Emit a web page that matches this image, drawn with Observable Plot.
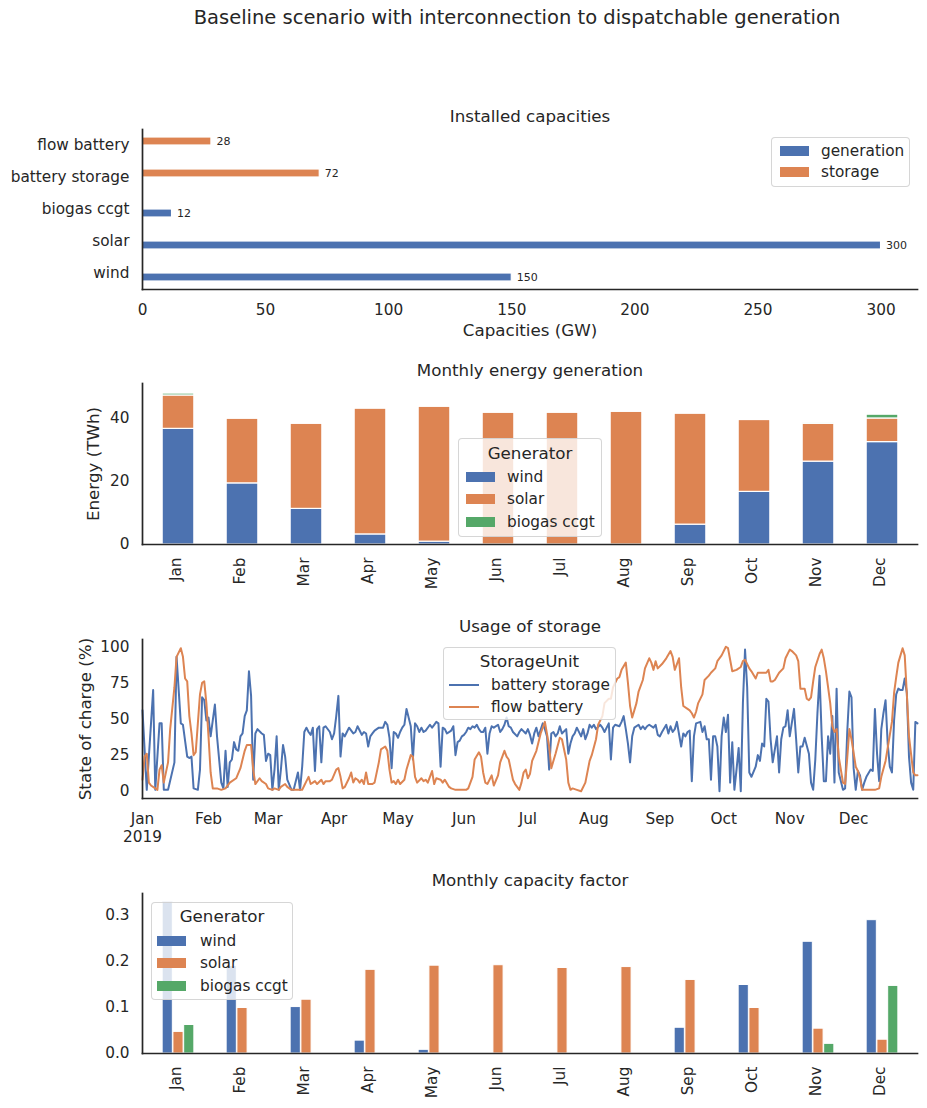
<!DOCTYPE html>
<html>
<head>
<meta charset="utf-8">
<script src="https://cdn.jsdelivr.net/npm/d3@7"></script>
<script src="https://cdn.jsdelivr.net/npm/@observablehq/plot@0.6"></script>
<style>
  html, body { margin: 0; padding: 0; background: #fff; }
  body { font-family: "DejaVu Sans", sans-serif; color: #262626; }
  #fig { position: relative; width: 927px; height: 1108px; overflow: hidden; }
  #fig svg { position: absolute; left: 0; }
  .suptitle { position: absolute; font-size: 19.5px; text-align: center; white-space: nowrap; }
  .legend-box { position: absolute; box-sizing: border-box; background: rgba(255,255,255,0.8);
                border: 1px solid rgba(204,204,204,0.8); border-radius: 4px; }
  .legend-title { position: absolute; text-align: center; font-size: 16.7px; white-space: nowrap; }
  .legend-label { position: absolute; font-size: 15.3px; white-space: nowrap; }
  .legend-handle { position: absolute; }
</style>
</head>
<body>
<div id="fig"></div>
<script>
// ---------- data ----------
const figureTitle = "Baseline scenario with interconnection to dispatchable generation";

// installed capacities (GW)
const capacityTechs = ["wind", "solar", "biogas ccgt", "battery storage", "flow battery"];
const capacityKind  = ["generation", "generation", "generation", "storage", "storage"];
const capacityGW    = [150, 300, 12, 72, 28];
const capacityKinds = ["generation", "storage"];
const capacityTicks = [0, 50, 100, 150, 200, 250, 300];

// months and generators
const months = ["Jan","Feb","Mar","Apr","May","Jun","Jul","Aug","Sep","Oct","Nov","Dec"];
const generators = ["wind", "solar", "biogas ccgt"];

// monthly energy generation (TWh)
const energyWind   = [36.7, 19.4, 11.3, 3.2, 0.9, 0, 0, 0, 6.3, 16.7, 26.3, 32.5];
const energySolar  = [10.6, 20.5, 27.0, 39.9, 42.8, 41.8, 41.8, 42.1, 35.2, 22.8, 12.0, 7.5];
const energyBiogas = [0.6, 0, 0, 0, 0, 0, 0, 0, 0, 0, 0.2, 1.2];
const energyTicks  = [0, 20, 40];

// monthly capacity factor
const cfWind   = [0.329, 0.19, 0.101, 0.028, 0.008, 0, 0, 0, 0.056, 0.149, 0.243, 0.29];
const cfSolar  = [0.047, 0.099, 0.117, 0.182, 0.191, 0.192, 0.186, 0.188, 0.160, 0.099, 0.054, 0.030];
const cfBiogas = [0.062, 0, 0, 0, 0, 0, 0, 0, 0, 0, 0.021, 0.147];
const cfTicks  = [0, 0.1, 0.2, 0.3];

// state of charge (%) by day of year 2019: [day offset from 1 Jan, value]
const storageUnits = ["battery storage", "flow battery"];
const socTicks = [0, 25, 50, 75, 100];
const socBattery = [[0,56],[2,1],[5,70],[6,1],[8,47],[9,47],[10,1],[12,1],[15,20],[16,93],[18,47],[19,46],[21,24],[22,23],[23,24],[24,2],[26,1],[27,15],[28,65],[29,63],[30,49],[31,51],[32,38],[34,60],[35,38],[37,6],[38,2],[39,28],[40,3],[41,20],[42,22],[43,34],[44,29],[45,28],[46,38],[47,40],[48,52],[49,56],[50,83],[51,66],[52,8],[53,40],[54,43],[56,40],[57,39],[58,21],[59,26],[60,25],[61,1],[62,15],[63,38],[64,1],[65,15],[66,32],[67,24],[68,8],[70,1],[71,1],[73,13],[74,1],[75,17],[76,41],[77,44],[78,41],[79,39],[80,44],[81,14],[82,43],[83,45],[84,20],[85,44],[86,45],[88,41],[89,36],[90,40],[91,52],[92,66],[93,24],[94,40],[95,38],[96,41],[97,44],[99,40],[100,41],[101,45],[102,42],[103,39],[104,41],[105,40],[106,31],[107,38],[108,40],[109,42],[110,43],[111,44],[113,44],[114,48],[115,46],[116,37],[117,16],[118,41],[119,40],[120,37],[121,41],[122,44],[123,46],[124,57],[126,45],[127,22],[128,47],[129,45],[130,41],[131,44],[132,41],[133,42],[135,46],[136,44],[137,46],[138,48],[139,47],[140,17],[141,44],[142,43],[143,40],[145,42],[146,45],[147,25],[148,34],[149,35],[150,38],[151,39],[152,41],[153,44],[154,43],[155,45],[156,44],[157,46],[158,43],[159,41],[160,41],[161,44],[162,26],[163,40],[164,45],[165,44],[167,46],[168,41],[169,43],[170,46],[171,51],[172,45],[173,44],[174,41],[176,38],[177,41],[178,43],[180,40],[181,43],[182,39],[183,33],[184,40],[185,44],[186,38],[188,47],[189,43],[190,38],[191,15],[192,40],[193,41],[194,38],[195,40],[196,45],[197,40],[199,43],[200,26],[201,33],[202,38],[203,40],[204,44],[206,38],[207,43],[208,36],[209,40],[210,46],[211,44],[212,46],[213,43],[215,46],[216,44],[217,41],[218,44],[219,47],[220,22],[221,44],[222,46],[224,45],[225,48],[226,52],[227,43],[228,33],[229,20],[230,38],[231,44],[233,46],[234,43],[235,45],[236,43],[237,45],[238,46],[240,44],[241,46],[242,39],[243,38],[244,41],[246,46],[247,40],[248,45],[249,41],[250,43],[251,48],[253,31],[254,40],[255,38],[256,41],[257,42],[258,7],[259,38],[260,47],[262,48],[263,41],[264,45],[265,36],[266,36],[267,8],[268,38],[269,38],[270,31],[271,0],[272,38],[273,51],[274,41],[275,53],[276,6],[277,34],[278,1],[279,15],[280,30],[281,0],[282,61],[283,98],[284,72],[285,13],[286,10],[288,17],[289,25],[290,21],[291,33],[292,31],[293,64],[294,62],[295,36],[296,20],[297,29],[298,38],[299,13],[300,36],[301,44],[302,45],[303,56],[304,38],[306,57],[307,36],[308,13],[309,31],[310,31],[311,37],[313,26],[314,6],[315,1],[316,22],[317,54],[318,80],[319,38],[320,7],[321,7],[322,38],[323,26],[324,52],[325,6],[326,71],[327,13],[329,1],[330,2],[331,41],[332,69],[333,65],[334,16],[335,1],[336,14],[337,11],[338,1],[339,6],[340,10],[342,15],[343,14],[344,57],[345,26],[346,7],[347,43],[348,54],[349,63],[350,33],[351,17],[352,13],[353,49],[354,67],[355,71],[356,70],[357,70],[358,78],[359,68],[360,24],[361,6],[362,1],[363,48],[364,47]];
const socFlow = [[0,8],[1,24],[2,26],[3,6],[4,4],[6,2],[7,1],[8,15],[9,18],[10,6],[12,20],[13,43],[15,72],[16,93],[18,99],[19,93],[20,78],[21,76],[22,52],[23,40],[24,25],[25,27],[26,47],[27,67],[28,75],[29,76],[30,61],[31,38],[32,13],[33,2],[35,2],[37,1],[39,2],[41,6],[44,9],[46,16],[48,28],[49,32],[51,32],[52,15],[53,5],[55,9],[56,7],[58,5],[59,2],[61,1],[62,2],[64,1],[65,3],[67,5],[68,3],[70,1],[73,1],[75,1],[76,4],[77,7],[78,10],[79,5],[80,6],[81,7],[82,5],[84,8],[85,5],[86,7],[88,7],[89,8],[91,15],[92,16],[93,10],[94,2],[95,3],[97,9],[98,13],[99,6],[100,9],[101,8],[102,6],[103,8],[104,5],[105,13],[106,5],[108,5],[109,6],[111,20],[112,29],[114,31],[115,28],[116,15],[117,6],[118,7],[119,5],[120,8],[121,5],[123,8],[124,15],[126,25],[127,24],[128,10],[129,6],[131,9],[132,7],[133,8],[134,6],[136,14],[137,5],[138,9],[140,8],[141,6],[142,8],[144,3],[145,2],[147,1],[149,1],[152,1],[153,2],[155,10],[156,22],[158,27],[159,24],[160,13],[161,6],[162,5],[164,11],[165,4],[167,11],[168,20],[170,28],[171,24],[172,22],[173,15],[174,8],[175,5],[177,1],[178,6],[179,13],[180,15],[181,9],[182,12],[183,21],[185,28],[187,40],[189,48],[191,31],[192,16],[194,26],[196,37],[197,36],[199,22],[200,6],[201,1],[202,2],[204,1],[206,0],[208,6],[210,21],[211,25],[213,36],[214,46],[216,52],[217,61],[219,64],[220,64],[221,72],[223,78],[224,79],[225,84],[227,89],[228,75],[229,59],[230,51],[232,61],[233,69],[235,77],[236,85],[238,92],[239,89],[240,84],[241,90],[242,85],[244,88],[246,92],[248,97],[249,93],[250,84],[252,92],[253,72],[254,59],[256,57],[257,56],[258,54],[259,51],[260,55],[261,61],[263,67],[264,77],[266,80],[267,82],[269,85],[270,90],[272,94],[274,100],[275,99],[276,91],[277,83],[279,84],[281,86],[282,90],[283,91],[285,85],[286,83],[288,78],[289,82],[291,82],[293,82],[294,84],[295,76],[296,76],[297,77],[299,82],[301,85],[302,92],[304,98],[305,97],[307,94],[308,90],[309,71],[311,71],[312,64],[313,63],[314,65],[315,76],[316,86],[318,95],[319,98],[320,92],[321,83],[322,72],[323,61],[324,45],[325,41],[326,43],[327,24],[329,6],[330,5],[331,23],[332,43],[333,36],[335,17],[336,14],[337,9],[338,1],[340,1],[342,1],[344,1],[346,2],[347,10],[349,21],[350,30],[352,48],[353,68],[354,79],[355,89],[357,99],[358,94],[359,67],[360,38],[362,13],[363,11],[364,11]];

// ---------- styling ----------
const FONT = "DejaVu Sans";
const INK = "#262626";
const BLUE = "#4C72B0", ORANGE = "#DD8452", GREEN = "#55A868";
const genColors = [BLUE, ORANGE, GREEN];
const kindColors = [BLUE, ORANGE];
const W = 927, ML = 142, MR = 10;
const TITLE_SIZE = 16.7, TICK_SIZE = "15.3px";
const baseStyle = {fontFamily: FONT, fontSize: TICK_SIZE, color: INK, background: "transparent", overflow: "visible"};

const fig = document.getElementById("fig");
function place(svg, top) { svg.style.top = top + "px"; fig.appendChild(svg); }

const spines = () => [
  Plot.frame({anchor: "left", stroke: INK, strokeWidth: 1.7}),
  Plot.frame({anchor: "bottom", stroke: INK, strokeWidth: 1.7})
];
const panelTitle = (t) => Plot.text([t], {text: d => d, frameAnchor: "top", dy: -13, lineAnchor: "middle", fontSize: TITLE_SIZE, fill: INK});
const yLabel = (t, dx) => Plot.text([t], {text: d => d, frameAnchor: "left", dx, rotate: -90, lineAnchor: "middle", textAnchor: "middle", fontSize: TITLE_SIZE, fill: INK});
const monthAxis = () => Plot.axisX({tickSize: 0, tickPadding: 13, tickRotate: -90, dx: -2, label: null});

// ---------- suptitle ----------
const sup = document.createElement("div");
sup.className = "suptitle";
sup.textContent = figureTitle;
Object.assign(sup.style, {left: (517 - 450) + "px", width: "900px", top: "6px", lineHeight: "24px"});
fig.appendChild(sup);

// ---------- panel 1: installed capacities ----------
const capRows = capacityTechs.map((t, i) => ({tech: t, kind: capacityKind[i], value: capacityGW[i]}));
const genCap = capRows.filter(d => d.kind === "generation");
const stoCap = capRows.filter(d => d.kind === "storage");
place(Plot.plot({
  width: W, height: 260, marginLeft: ML, marginRight: MR, marginTop: 39, marginBottom: 61,
  style: baseStyle,
  x: {domain: [0, 314.8]},
  y: {domain: capacityTechs.slice().reverse(), padding: 0},
  marks: [
    Plot.barX(genCap, {x: "value", y: "tech", fill: kindColors[0], stroke: "white", strokeWidth: 1.2, insetTop: 16, insetBottom: 8}),
    Plot.barX(stoCap, {x: "value", y: "tech", fill: kindColors[1], stroke: "white", strokeWidth: 1.2, insetTop: 8, insetBottom: 16}),
    Plot.text(genCap, {x: "value", y: "tech", text: d => String(d.value), dx: 5, dy: 4, textAnchor: "start", fontSize: 11, fill: INK}),
    Plot.text(stoCap, {x: "value", y: "tech", text: d => String(d.value), dx: 5, dy: -4, textAnchor: "start", fontSize: 11, fill: INK}),
    Plot.axisX({ticks: capacityTicks, tickSize: 0, tickPadding: 15, label: null}),
    Plot.axisY({tickSize: 0, tickPadding: 13, label: null}),
    ...spines(),
    panelTitle("Installed capacities"),
    Plot.text(["Capacities (GW)"], {text: d => d, frameAnchor: "bottom", dy: 41, lineAnchor: "middle", fontSize: TITLE_SIZE, fill: INK})
  ]
}), 90);

// ---------- panel 2: monthly energy generation ----------
const energySeries = [energyWind, energySolar, energyBiogas];
const energyRows = months.flatMap((m, i) => generators.map((g, k) => ({month: m, gen: g, v: energySeries[k][i]}))).filter(d => d.v > 0);
const step = (W - ML - MR) / months.length;
place(Plot.plot({
  width: W, height: 260, marginLeft: ML, marginRight: MR, marginTop: 43, marginBottom: 56,
  style: baseStyle,
  x: {domain: months, padding: 0},
  y: {domain: [0, 51.1]},
  color: {domain: generators, range: genColors},
  marks: [
    Plot.barY(energyRows, {x: "month", y: "v", fill: "gen", stroke: "white", strokeWidth: 1.2, insetLeft: step / 4, insetRight: step / 4}),
    monthAxis(),
    Plot.axisY({ticks: energyTicks, tickSize: 0, tickPadding: 13, label: null}),
    ...spines(),
    panelTitle("Monthly energy generation"),
    yLabel("Energy (TWh)", -49)
  ]
}), 340);

// ---------- panel 3: usage of storage ----------
const day0 = Date.UTC(2019, 0, 1);
const toRows = (pairs, unit) => pairs.map(([d, v]) => ({date: new Date(day0 + d * 864e5), soc: v, unit}));
const batteryRows = toRows(socBattery, storageUnits[0]);
const flowRows = toRows(socFlow, storageUnits[1]);
const monthStarts = d3.utcMonths(new Date(day0), new Date(Date.UTC(2020, 0, 1)));
place(Plot.plot({
  width: W, height: 253, marginLeft: ML, marginRight: MR, marginTop: 44, marginBottom: 50,
  style: baseStyle,
  x: {type: "utc", domain: [new Date(day0), new Date(Date.UTC(2019, 11, 31))]},
  y: {domain: [-5, 105]},
  marks: [
    Plot.lineY(batteryRows, {x: "date", y: "soc", stroke: BLUE, strokeWidth: 2}),
    Plot.lineY(flowRows, {x: "date", y: "soc", stroke: ORANGE, strokeWidth: 2}),
    Plot.axisX({ticks: monthStarts, tickSize: 0, tickPadding: 13, lineHeight: 1.17, label: null,
      tickFormat: d => d.getUTCMonth() === 0 ? d3.utcFormat("%b\n%Y")(d) : d3.utcFormat("%b")(d)}),
    Plot.axisY({ticks: socTicks, tickSize: 0, tickPadding: 13, label: null}),
    ...spines(),
    panelTitle("Usage of storage"),
    yLabel("State of charge (%)", -57)
  ]
}), 595);

// ---------- panel 4: monthly capacity factor ----------
const cfSeries = [cfWind, cfSolar, cfBiogas];
const groupW = step * 0.5, barW = groupW / 3, lead = (step - groupW) / 2;
place(Plot.plot({
  width: W, height: 258, marginLeft: ML, marginRight: MR, marginTop: 43, marginBottom: 55,
  style: baseStyle,
  x: {domain: months, padding: 0},
  y: {domain: [0, 0.348]},
  marks: [
    ...generators.map((g, k) => Plot.barY(
      months.map((m, i) => ({month: m, gen: g, v: cfSeries[k][i]})).filter(d => d.v > 0),
      {x: "month", y: "v", fill: genColors[k], stroke: "white", strokeWidth: 1,
       insetLeft: lead + k * barW, insetRight: step - lead - (k + 1) * barW})),
    monthAxis(),
    Plot.axisY({ticks: cfTicks, tickFormat: d3.format(".1f"), tickSize: 0, tickPadding: 13, label: null}),
    ...spines(),
    panelTitle("Monthly capacity factor")
  ]
}), 850);

// ---------- legends ----------
function legend({box: [x0, y0, x1, y1], title, titleY, handleX, textX, rows, kind}) {
  const b = document.createElement("div");
  b.className = "legend-box";
  Object.assign(b.style, {left: x0 + "px", top: y0 + "px", width: (x1 - x0) + "px", height: (y1 - y0) + "px"});
  fig.appendChild(b);
  if (title) {
    const t = document.createElement("div");
    t.className = "legend-title";
    t.textContent = title;
    Object.assign(t.style, {left: x0 + "px", width: (x1 - x0) + "px", top: (titleY - 11) + "px", height: "22px", lineHeight: "22px"});
    fig.appendChild(t);
  }
  rows.forEach(r => {
    const h = document.createElement("div");
    h.className = "legend-handle";
    if (kind === "line") Object.assign(h.style, {left: handleX + "px", top: (r.y - 1) + "px", width: "30px", height: "2px", background: r.color});
    else Object.assign(h.style, {left: handleX + "px", top: (r.y - 5) + "px", width: "29px", height: "10px", background: r.color});
    fig.appendChild(h);
    const s = document.createElement("div");
    s.className = "legend-label";
    s.textContent = r.label;
    Object.assign(s.style, {left: textX + "px", top: (r.y - 10) + "px", height: "20px", lineHeight: "20px"});
    fig.appendChild(s);
  });
}

legend({box: [771, 137, 910, 187], handleX: 780, textX: 821, kind: "patch",
  rows: capacityKinds.map((k, i) => ({label: k, color: kindColors[i], y: [151, 172][i]}))});
legend({box: [458, 438, 602, 537], title: "Generator", titleY: 453, handleX: 466, textX: 507, kind: "patch",
  rows: generators.map((g, i) => ({label: g, color: genColors[i], y: 477 + i * 22.3}))});
legend({box: [443, 647, 616, 720], title: "StorageUnit", titleY: 661, handleX: 449, textX: 491, kind: "line",
  rows: storageUnits.map((u, i) => ({label: u, color: [BLUE, ORANGE][i], y: 685 + i * 21.5}))});
legend({box: [151, 902, 293, 1000], title: "Generator", titleY: 916, handleX: 157, textX: 200, kind: "patch",
  rows: generators.map((g, i) => ({label: g, color: genColors[i], y: 940.5 + i * 22.7}))});
</script>
</body>
</html>
